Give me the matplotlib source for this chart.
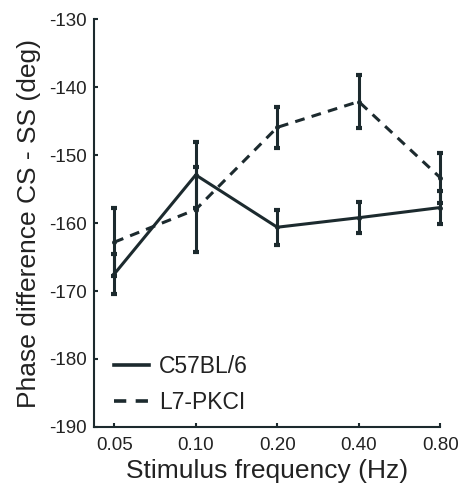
import numpy as np
import matplotlib
matplotlib.use('Agg')
import matplotlib.pyplot as plt
from matplotlib.lines import Line2D

plt.rcParams['font.family'] = ['Liberation Sans', 'DejaVu Sans']
plt.rcParams['axes.unicode_minus'] = False

# data
freq_labels = ['0.05', '0.10', '0.20', '0.40', '0.80']
wt_mean = [-167.5, -152.9, -160.6, -159.2, -157.7]
wt_err = [3.0, 4.9, 2.6, 2.3, 2.4]
mut_mean = [-162.8, -158.0, -145.9, -142.1, -153.3]
mut_err = [5.0, 6.3, 3.0, 3.9, 3.7]

col = '#1c2a2e'
txt = '#222222'
x = np.arange(len(freq_labels))

fig = plt.figure(figsize=(4.6, 4.97), dpi=100)
ax = fig.add_axes([0.204, 0.141, 0.753, 0.82])

eb1 = ax.errorbar(x, wt_mean, yerr=wt_err, color=col, lw=2.2, elinewidth=2.2,
                  capsize=2, capthick=3, marker='o', ms=2.5)
eb2 = ax.errorbar(x, mut_mean, yerr=mut_err, color=col, lw=2.2, elinewidth=2.2,
                  capsize=2, capthick=3, marker='o', ms=2.5, dashes=(3.2, 2.4))
for eb in (eb1, eb2):
    for art in eb.get_children():
        art.set_clip_on(False)

ax.set_xlim(-0.25, 4)
ax.set_ylim(-190, -130)
ax.set_xticks(x)
ax.set_xticklabels(freq_labels)
ax.set_yticks(np.arange(-190, -129, 10))

for s in ['top', 'right']:
    ax.spines[s].set_visible(False)
for s in ['left', 'bottom']:
    ax.spines[s].set_color(col)
    ax.spines[s].set_linewidth(1.5)
ax.tick_params(direction='in', length=3, width=1.5, color=col,
               labelsize=13.5, labelcolor=txt)
ax.tick_params(axis='y', pad=5)
ax.tick_params(axis='x', pad=7)

ax.set_xlabel('Stimulus frequency (Hz)', fontsize=19, color=txt, labelpad=4)
ax.set_ylabel('Phase difference CS - SS (deg)', fontsize=19, color=txt, labelpad=6)

handles = [Line2D([], [], color=col, lw=2.6),
           Line2D([], [], color=col, lw=2.6, dashes=(3.4, 2.6))]
ax.legend(handles, ['C57BL/6', 'L7-PKCI'], loc='lower left',
          bbox_to_anchor=(0.0, -0.02), frameon=False, fontsize=16.5,
          handlelength=1.5, handletextpad=0.45, labelspacing=0.6,
          labelcolor=txt)

fig.savefig('out.png', dpi=100)
